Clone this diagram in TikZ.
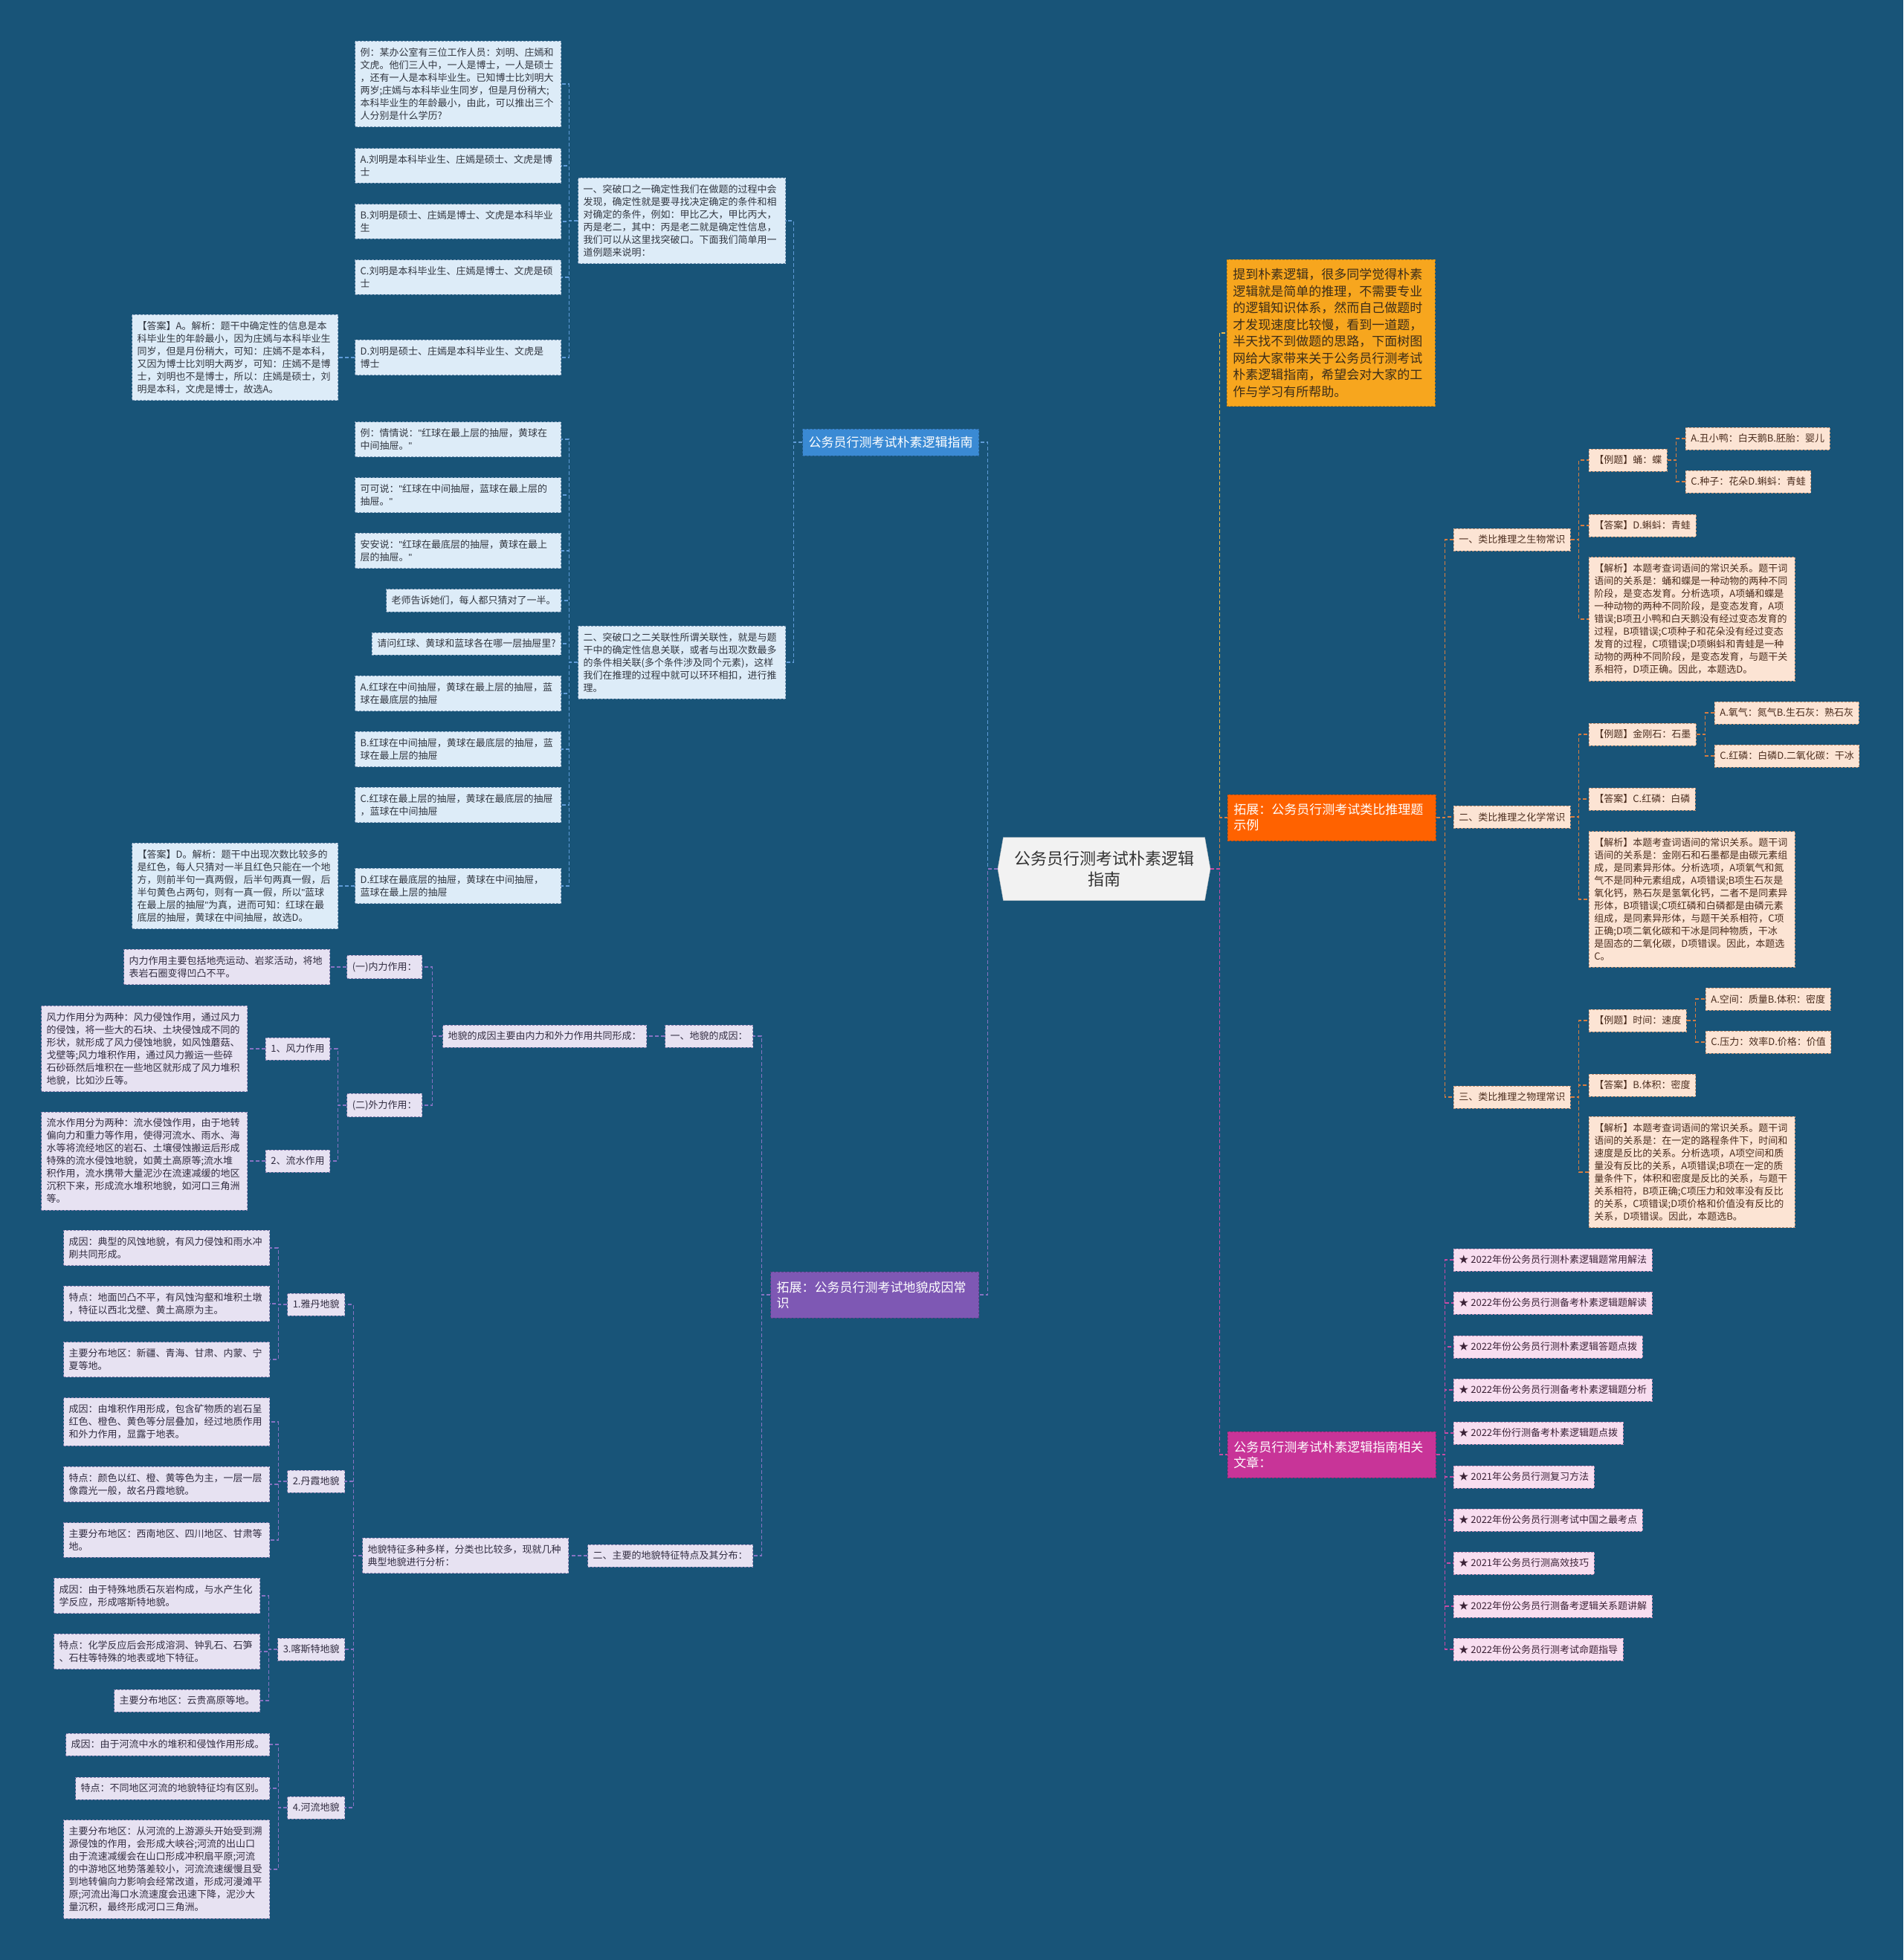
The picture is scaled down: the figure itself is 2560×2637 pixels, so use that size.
\documentclass[tikz,border=0pt]{standalone}
\usepackage{fontspec}
\setmainfont{Noto Sans CJK SC}
\newfontfamily\latinfont{Liberation Sans}
\newcommand\qt{{\latinfont"}}
\usepackage{xcolor}
\usepackage{tikz}
\usetikzlibrary{shapes.symbols,positioning}

\definecolor{bgblue}{RGB}{24,84,120}
\definecolor{bfill}{RGB}{221,236,248}
\definecolor{bdraw}{RGB}{120,150,180}
\definecolor{btext}{RGB}{50,55,65}
\definecolor{pfill}{RGB}{231,226,242}
\definecolor{pdraw}{RGB}{140,130,175}
\definecolor{ptext}{RGB}{50,45,65}
\definecolor{ofill}{RGB}{252,228,212}
\definecolor{odraw}{RGB}{195,145,115}
\definecolor{otext}{RGB}{75,45,30}
\definecolor{mfill}{RGB}{248,222,240}
\definecolor{mdraw}{RGB}{195,140,180}
\definecolor{mtext}{RGB}{60,35,55}
\definecolor{lblblue}{RGB}{58,138,212}
\definecolor{lblpur}{RGB}{126,88,180}
\definecolor{lblorg}{RGB}{255,98,0}
\definecolor{lblmag}{RGB}{200,52,152}
\definecolor{introfill}{RGB}{247,166,30}
\definecolor{introtext}{RGB}{60,45,25}
\definecolor{lnblue}{RGB}{95,155,215}
\definecolor{lnpur}{RGB}{135,115,195}
\definecolor{lnorg}{RGB}{215,125,65}
\definecolor{lnyel}{RGB}{235,185,70}
\definecolor{lnmag}{RGB}{200,75,165}
\definecolor{cfill}{RGB}{242,242,242}

\begin{document}
\begin{tikzpicture}[
  x=1pt, y=-1pt,
  leaf/.style={draw=#1draw, fill=#1fill, text=#1text, line width=0.8pt,
               dash pattern=on 3pt off 2pt, font=\fontsize{13}{17}\selectfont,
               align=left, inner xsep=7pt, inner ysep=9pt, minimum height=30pt},
  wide/.style={text width=263pt},
  lbl/.style={draw=#1!75!black, fill=#1, text=white, line width=0.8pt,
              dash pattern=on 3pt off 2pt, font=\fontsize{17}{21}\selectfont,
              align=left, inner xsep=8pt, inner ysep=10pt},
  lk/.style={draw=#1, line width=1.2pt, dash pattern=on 5pt off 3pt}
]
\useasboundingbox (0,0) rectangle (2560,2637);
\fill[bgblue] (0,0) rectangle (2560,2637);

% root
\node[signal, signal to=west and east, signal pointer angle=160, fill=cfill,
      draw=cfill!80!black, text=black!80, font=\fontsize{22}{28}\selectfont,
      align=center, minimum width=286pt, minimum height=85pt, inner sep=4pt]
      (root) at (1485,1169) {公务员行测考试朴素逻辑\\指南};

% left, blue branch
\node[lbl=lblblue, minimum height=36pt, anchor=east] (guide) at (1317,595) {公务员行测考试朴素逻辑指南};
\node[leaf=b, text width=265pt, anchor=east] (tp1) at (1057,297)
  {一、突破口之一确定性我们在做题的过程中会\\发现，确定性就是要寻找决定确定的条件和相\\对确定的条件，例如：甲比乙大，甲比丙大，\\丙是老二，其中：丙是老二就是确定性信息，\\我们可以从这里找突破口。下面我们简单用一\\道例题来说明：};
\node[leaf=b, text width=265pt, anchor=east] (tp2) at (1057,891)
  {二、突破口之二关联性所谓关联性，就是与题\\干中的确定性信息关联，或者与出现次数最多\\的条件相关联(多个条件涉及同个元素)，这样\\我们在推理的过程中就可以环环相扣，进行推\\理。};
\node[leaf=b, wide, anchor=east] (eg1) at (755,113)
  {例：某办公室有三位工作人员：刘明、庄嫣和\\文虎。他们三人中，一人是博士，一人是硕士\\，还有一人是本科毕业生。已知博士比刘明大\\两岁;庄嫣与本科毕业生同岁，但是月份稍大;\\本科毕业生的年龄最小，由此，可以推出三个\\人分别是什么学历?};
\node[leaf=b, wide, anchor=east] (opt1a) at (755,223) {A.刘明是本科毕业生、庄嫣是硕士、文虎是博\\士};
\node[leaf=b, wide, anchor=east] (opt1b) at (755,298) {B.刘明是硕士、庄嫣是博士、文虎是本科毕业\\生};
\node[leaf=b, wide, anchor=east] (opt1c) at (755,373) {C.刘明是本科毕业生、庄嫣是博士、文虎是硕\\士};
\node[leaf=b, wide, anchor=east] (opt1d) at (755,481) {D.刘明是硕士、庄嫣是本科毕业生、文虎是\\博士};
\node[leaf=b, wide, anchor=east] (key1) at (455,481)
  {【答案】A。解析：题干中确定性的信息是本\\科毕业生的年龄最小，因为庄嫣与本科毕业生\\同岁，但是月份稍大，可知：庄嫣不是本科，\\又因为博士比刘明大两岁，可知：庄嫣不是博\\士，刘明也不是博士，所以：庄嫣是硕士，刘\\明是本科，文虎是博士，故选A。};
\node[leaf=b, wide, anchor=east] (eg2a) at (755,591) {例：情情说：\qt 红球在最上层的抽屉，黄球在\\中间抽屉。\qt};
\node[leaf=b, wide, anchor=east] (eg2b) at (755,666) {可可说：\qt 红球在中间抽屉，蓝球在最上层的\\抽屉。\qt};
\node[leaf=b, wide, anchor=east] (eg2c) at (755,741) {安安说：\qt 红球在最底层的抽屉，黄球在最上\\层的抽屉。\qt};
\node[leaf=b, anchor=east] (eg2d) at (755,808) {老师告诉她们，每人都只猜对了一半。};
\node[leaf=b, anchor=east] (eg2e) at (755,866) {请问红球、黄球和蓝球各在哪一层抽屉里?};
\node[leaf=b, wide, anchor=east] (opt2a) at (755,933) {A.红球在中间抽屉，黄球在最上层的抽屉，蓝\\球在最底层的抽屉};
\node[leaf=b, wide, anchor=east] (opt2b) at (755,1008) {B.红球在中间抽屉，黄球在最底层的抽屉，蓝\\球在最上层的抽屉};
\node[leaf=b, wide, anchor=east] (opt2c) at (755,1083) {C.红球在最上层的抽屉，黄球在最底层的抽屉\\，蓝球在中间抽屉};
\node[leaf=b, wide, anchor=east] (opt2d) at (755,1192) {D.红球在最底层的抽屉，黄球在中间抽屉，\\蓝球在最上层的抽屉};
\node[leaf=b, wide, anchor=east] (key2) at (455,1192)
  {【答案】D。解析：题干中出现次数比较多的\\是红色，每人只猜对一半且红色只能在一个地\\方，则前半句一真两假，后半句两真一假，后\\半句黄色占两句，则有一真一假，所以\qt 蓝球\\在最上层的抽屉\qt 为真，进而可知：红球在最\\底层的抽屉，黄球在中间抽屉，故选D。};

% left, purple branch
\node[lbl=lblpur, text width=264pt, minimum height=62pt, anchor=east] (geo) at (1317,1742) {拓展：公务员行测考试地貌成因常\\识};
\node[leaf=p, anchor=east] (cause) at (1013,1394) {一、地貌的成因：};
\node[leaf=p, anchor=east] (feat) at (1013,2093) {二、主要的地貌特征特点及其分布：};
\node[leaf=p, anchor=east] (causemain) at (870,1394) {地貌的成因主要由内力和外力作用共同形成：};
\node[leaf=p, anchor=east] (inner) at (568,1301) {(一)内力作用：};
\node[leaf=p, anchor=east] (outer) at (568,1487) {(二)外力作用：};
\node[leaf=p, wide, anchor=east] (innerdesc) at (444,1301) {内力作用主要包括地壳运动、岩浆活动，将地\\表岩石圈变得凹凸不平。};
\node[leaf=p, anchor=east] (wind) at (444,1411) {1、风力作用};
\node[leaf=p, anchor=east] (water) at (444,1562) {2、流水作用};
\node[leaf=p, wide, anchor=east] (winddesc) at (333,1411)
  {风力作用分为两种：风力侵蚀作用，通过风力\\的侵蚀，将一些大的石块、土块侵蚀成不同的\\形状，就形成了风力侵蚀地貌，如风蚀蘑菇、\\戈壁等;风力堆积作用，通过风力搬运一些碎\\石砂砾然后堆积在一些地区就形成了风力堆积\\地貌，比如沙丘等。};
\node[leaf=p, wide, anchor=east] (waterdesc) at (333,1562)
  {流水作用分为两种：流水侵蚀作用，由于地转\\偏向力和重力等作用，使得河流水、雨水、海\\水等将流经地区的岩石、土壤侵蚀搬运后形成\\特殊的流水侵蚀地貌，如黄土高原等;流水堆\\积作用，流水携带大量泥沙在流速减缓的地区\\沉积下来，形成流水堆积地貌，如河口三角洲\\等。};
\node[leaf=p, wide, anchor=east] (featmain) at (765,2093) {地貌特征多种多样，分类也比较多，现就几种\\典型地貌进行分析：};
\node[leaf=p, anchor=east] (yadan) at (464,1755) {1.雅丹地貌};
\node[leaf=p, anchor=east] (danxia) at (464,1993) {2.丹霞地貌};
\node[leaf=p, anchor=east] (karst) at (464,2219) {3.喀斯特地貌};
\node[leaf=p, anchor=east] (river) at (464,2432) {4.河流地貌};
\node[leaf=p, wide, anchor=east] (yd1) at (363,1679) {成因：典型的风蚀地貌，有风力侵蚀和雨水冲\\刷共同形成。};
\node[leaf=p, wide, anchor=east] (yd2) at (363,1754) {特点：地面凹凸不平，有风蚀沟壑和堆积土墩\\，特征以西北戈壁、黄土高原为主。};
\node[leaf=p, wide, anchor=east] (yd3) at (363,1829) {主要分布地区：新疆、青海、甘肃、内蒙、宁\\夏等地。};
\node[leaf=p, wide, anchor=east] (dx1) at (363,1913) {成因：由堆积作用形成，包含矿物质的岩石呈\\红色、橙色、黄色等分层叠加，经过地质作用\\和外力作用，显露于地表。};
\node[leaf=p, wide, anchor=east] (dx2) at (363,1997) {特点：颜色以红、橙、黄等色为主，一层一层\\像霞光一般，故名丹霞地貌。};
\node[leaf=p, wide, anchor=east] (dx3) at (363,2072) {主要分布地区：西南地区、四川地区、甘肃等\\地。};
\node[leaf=p, wide, anchor=east] (ks1) at (350,2147) {成因：由于特殊地质石灰岩构成，与水产生化\\学反应，形成喀斯特地貌。};
\node[leaf=p, wide, anchor=east] (ks2) at (350,2222) {特点：化学反应后会形成溶洞、钟乳石、石笋\\、石柱等特殊的地表或地下特征。};
\node[leaf=p, anchor=east] (ks3) at (350,2288) {主要分布地区：云贵高原等地。};
\node[leaf=p, anchor=east] (rv1) at (363,2347) {成因：由于河流中水的堆积和侵蚀作用形成。};
\node[leaf=p, anchor=east] (rv2) at (363,2406) {特点：不同地区河流的地貌特征均有区别。};
\node[leaf=p, wide, anchor=east] (rv3) at (363,2515)
  {主要分布地区：从河流的上游源头开始受到溯\\源侵蚀的作用，会形成大峡谷;河流的出山口\\由于流速减缓会在山口形成冲积扇平原;河流\\的中游地区地势落差较小，河流流速缓慢且受\\到地转偏向力影响会经常改道，形成河漫滩平\\原;河流出海口水流速度会迅速下降，泥沙大\\量沉积，最终形成河口三角洲。};

% right side
\node[draw=introfill!75!black, fill=introfill, text=introtext, line width=0.8pt,
      dash pattern=on 3pt off 2pt, font=\fontsize{17}{22.5}\selectfont, align=left,
      text width=264pt, inner xsep=8pt, inner ysep=12pt, anchor=west] (intro) at (1650,448)
  {提到朴素逻辑，很多同学觉得朴素\\逻辑就是简单的推理，不需要专业\\的逻辑知识体系，然而自己做题时\\才发现速度比较慢，看到一道题，\\半天找不到做题的思路，下面树图\\网给大家带来关于公务员行测考试\\朴素逻辑指南，希望会对大家的工\\作与学习有所帮助。};
\node[lbl=lblorg, text width=264pt, minimum height=62pt, anchor=west] (analog) at (1651,1100) {拓展：公务员行测考试类比推理题\\示例};
\node[leaf=o, anchor=west] (bio) at (1955,726) {一、类比推理之生物常识};
\node[leaf=o, anchor=west] (chem) at (1955,1099) {二、类比推理之化学常识};
\node[leaf=o, anchor=west] (phys) at (1955,1476) {三、类比推理之物理常识};
\node[leaf=o, anchor=west] (bioq) at (2137,619) {【例题】蛹：蝶};
\node[leaf=o, anchor=west] (bioa1) at (2267,590) {A.丑小鸭：白天鹅B.胚胎：婴儿};
\node[leaf=o, anchor=west] (bioa2) at (2267,648) {C.种子：花朵D.蝌蚪：青蛙};
\node[leaf=o, anchor=west] (biokey) at (2137,707) {【答案】D.蝌蚪：青蛙};
\node[leaf=o, wide, anchor=west] (bioexp) at (2137,833)
  {【解析】本题考查词语间的常识关系。题干词\\语间的关系是：蛹和蝶是一种动物的两种不同\\阶段，是变态发育。分析选项，A项蛹和蝶是\\一种动物的两种不同阶段，是变态发育，A项\\错误;B项丑小鸭和白天鹅没有经过变态发育的\\过程，B项错误;C项种子和花朵没有经过变态\\发育的过程，C项错误;D项蝌蚪和青蛙是一种\\动物的两种不同阶段，是变态发育，与题干关\\系相符，D项正确。因此，本题选D。};
\node[leaf=o, anchor=west] (chemq) at (2137,988) {【例题】金刚石：石墨};
\node[leaf=o, anchor=west] (chema1) at (2306,959) {A.氧气：氮气B.生石灰：熟石灰};
\node[leaf=o, anchor=west] (chema2) at (2306,1017) {C.红磷：白磷D.二氧化碳：干冰};
\node[leaf=o, anchor=west] (chemkey) at (2137,1075) {【答案】C.红磷：白磷};
\node[leaf=o, wide, anchor=west] (chemexp) at (2137,1210)
  {【解析】本题考查词语间的常识关系。题干词\\语间的关系是：金刚石和石墨都是由碳元素组\\成，是同素异形体。分析选项，A项氧气和氮\\气不是同种元素组成，A项错误;B项生石灰是\\氧化钙，熟石灰是氢氧化钙，二者不是同素异\\形体，B项错误;C项红磷和白磷都是由磷元素\\组成，是同素异形体，与题干关系相符，C项\\正确;D项二氧化碳和干冰是同种物质，干冰\\是固态的二氧化碳，D项错误。因此，本题选\\C。};
\node[leaf=o, anchor=west] (physq) at (2137,1373) {【例题】时间：速度};
\node[leaf=o, anchor=west] (physa1) at (2294,1344) {A.空间：质量B.体积：密度};
\node[leaf=o, anchor=west] (physa2) at (2294,1402) {C.压力：效率D.价格：价值};
\node[leaf=o, anchor=west] (physkey) at (2137,1460) {【答案】B.体积：密度};
\node[leaf=o, wide, anchor=west] (physexp) at (2137,1577)
  {【解析】本题考查词语间的常识关系。题干词\\语间的关系是：在一定的路程条件下，时间和\\速度是反比的关系。分析选项，A项空间和质\\量没有反比的关系，A项错误;B项在一定的质\\量条件下，体积和密度是反比的关系，与题干\\关系相符，B项正确;C项压力和效率没有反比\\的关系，C项错误;D项价格和价值没有反比的\\关系，D项错误。因此，本题选B。};
\node[lbl=lblmag, text width=264pt, minimum height=62pt, anchor=west] (related) at (1651,1957) {公务员行测考试朴素逻辑指南相关\\文章：};
\node[leaf=m, anchor=west] (art1) at (1955,1695) {★ 2022年份公务员行测朴素逻辑题常用解法};
\node[leaf=m, anchor=west] (art2) at (1955,1753) {★ 2022年份公务员行测备考朴素逻辑题解读};
\node[leaf=m, anchor=west] (art3) at (1955,1812) {★ 2022年份公务员行测朴素逻辑答题点拨};
\node[leaf=m, anchor=west] (art4) at (1955,1870) {★ 2022年份公务员行测备考朴素逻辑题分析};
\node[leaf=m, anchor=west] (art5) at (1955,1928) {★ 2022年份行测备考朴素逻辑题点拨};
\node[leaf=m, anchor=west] (art6) at (1955,1987) {★ 2021年公务员行测复习方法};
\node[leaf=m, anchor=west] (art7) at (1955,2045) {★ 2022年份公务员行测考试中国之最考点};
\node[leaf=m, anchor=west] (art8) at (1955,2103) {★ 2021年公务员行测高效技巧};
\node[leaf=m, anchor=west] (art9) at (1955,2161) {★ 2022年份公务员行测备考逻辑关系题讲解};
\node[leaf=m, anchor=west] (art10) at (1955,2219) {★ 2022年份公务员行测考试命题指导};

% connectors
\draw[lk=lnyel] (root.east) -- ++(12,0) |- (intro.west);
\draw[lk=lnorg] (root.east) -- ++(12,0) |- (analog.west);
\draw[lk=lnmag] (root.east) -- ++(12,0) |- (related.west);
\draw[lk=lnblue] (root.west) -- ++(-13,0) |- (guide.east);
\draw[lk=lnpur] (root.west) -- ++(-13,0) |- (geo.east);

\draw[lk=lnblue] (guide.west) -- ++(-12,0) |- (tp1.east);
\draw[lk=lnblue] (guide.west) -- ++(-12,0) |- (tp2.east);
\draw[lk=lnblue] (tp1.west) -- ++(-12,0) |- (eg1.east);
\draw[lk=lnblue] (tp1.west) -- ++(-12,0) |- (opt1a.east);
\draw[lk=lnblue] (tp1.west) -- ++(-12,0) |- (opt1b.east);
\draw[lk=lnblue] (tp1.west) -- ++(-12,0) |- (opt1c.east);
\draw[lk=lnblue] (tp1.west) -- ++(-12,0) |- (opt1d.east);
\draw[lk=lnblue] (opt1d.west) -- (key1.east);
\draw[lk=lnblue] (tp2.west) -- ++(-12,0) |- (eg2a.east);
\draw[lk=lnblue] (tp2.west) -- ++(-12,0) |- (eg2b.east);
\draw[lk=lnblue] (tp2.west) -- ++(-12,0) |- (eg2c.east);
\draw[lk=lnblue] (tp2.west) -- ++(-12,0) |- (eg2d.east);
\draw[lk=lnblue] (tp2.west) -- ++(-12,0) |- (eg2e.east);
\draw[lk=lnblue] (tp2.west) -- ++(-12,0) |- (opt2a.east);
\draw[lk=lnblue] (tp2.west) -- ++(-12,0) |- (opt2b.east);
\draw[lk=lnblue] (tp2.west) -- ++(-12,0) |- (opt2c.east);
\draw[lk=lnblue] (tp2.west) -- ++(-12,0) |- (opt2d.east);
\draw[lk=lnblue] (opt2d.west) -- (key2.east);

\draw[lk=lnpur] (geo.west) -- ++(-12,0) |- (cause.east);
\draw[lk=lnpur] (geo.west) -- ++(-12,0) |- (feat.east);
\draw[lk=lnpur] (cause.west) -- (causemain.east);
\draw[lk=lnpur] (causemain.west) -- ++(-14,0) |- (inner.east);
\draw[lk=lnpur] (causemain.west) -- ++(-14,0) |- (outer.east);
\draw[lk=lnpur] (inner.west) -- (innerdesc.east);
\draw[lk=lnpur] (outer.west) -- ++(-12,0) |- (wind.east);
\draw[lk=lnpur] (outer.west) -- ++(-12,0) |- (water.east);
\draw[lk=lnpur] (wind.west) -- (winddesc.east);
\draw[lk=lnpur] (water.west) -- (waterdesc.east);
\draw[lk=lnpur] (feat.west) -- (featmain.east);
\draw[lk=lnpur] (featmain.west) -- ++(-12,0) |- (yadan.east);
\draw[lk=lnpur] (featmain.west) -- ++(-12,0) |- (danxia.east);
\draw[lk=lnpur] (featmain.west) -- ++(-12,0) |- (karst.east);
\draw[lk=lnpur] (featmain.west) -- ++(-12,0) |- (river.east);
\draw[lk=lnpur] (yadan.west) -- ++(-12,0) |- (yd1.east);
\draw[lk=lnpur] (yadan.west) -- ++(-12,0) |- (yd2.east);
\draw[lk=lnpur] (yadan.west) -- ++(-12,0) |- (yd3.east);
\draw[lk=lnpur] (danxia.west) -- ++(-12,0) |- (dx1.east);
\draw[lk=lnpur] (danxia.west) -- ++(-12,0) |- (dx2.east);
\draw[lk=lnpur] (danxia.west) -- ++(-12,0) |- (dx3.east);
\draw[lk=lnpur] (karst.west) -- ++(-12,0) |- (ks1.east);
\draw[lk=lnpur] (karst.west) -- ++(-12,0) |- (ks2.east);
\draw[lk=lnpur] (karst.west) -- ++(-12,0) |- (ks3.east);
\draw[lk=lnpur] (river.west) -- ++(-12,0) |- (rv1.east);
\draw[lk=lnpur] (river.west) -- ++(-12,0) |- (rv2.east);
\draw[lk=lnpur] (river.west) -- ++(-12,0) |- (rv3.east);

\draw[lk=lnorg] (analog.east) -- ++(12,0) |- (bio.west);
\draw[lk=lnorg] (analog.east) -- ++(12,0) |- (chem.west);
\draw[lk=lnorg] (analog.east) -- ++(12,0) |- (phys.west);
\draw[lk=lnorg] (bio.east) -- ++(11,0) |- (bioq.west);
\draw[lk=lnorg] (bio.east) -- ++(11,0) |- (biokey.west);
\draw[lk=lnorg] (bio.east) -- ++(11,0) |- (bioexp.west);
\draw[lk=lnorg] (bioq.east) -- ++(12,0) |- (bioa1.west);
\draw[lk=lnorg] (bioq.east) -- ++(12,0) |- (bioa2.west);
\draw[lk=lnorg] (chem.east) -- ++(11,0) |- (chemq.west);
\draw[lk=lnorg] (chem.east) -- ++(11,0) |- (chemkey.west);
\draw[lk=lnorg] (chem.east) -- ++(11,0) |- (chemexp.west);
\draw[lk=lnorg] (chemq.east) -- ++(12,0) |- (chema1.west);
\draw[lk=lnorg] (chemq.east) -- ++(12,0) |- (chema2.west);
\draw[lk=lnorg] (phys.east) -- ++(11,0) |- (physq.west);
\draw[lk=lnorg] (phys.east) -- ++(11,0) |- (physkey.west);
\draw[lk=lnorg] (phys.east) -- ++(11,0) |- (physexp.west);
\draw[lk=lnorg] (physq.east) -- ++(12,0) |- (physa1.west);
\draw[lk=lnorg] (physq.east) -- ++(12,0) |- (physa2.west);

\draw[lk=lnmag] (related.east) -- ++(12,0) |- (art1.west);
\draw[lk=lnmag] (related.east) -- ++(12,0) |- (art2.west);
\draw[lk=lnmag] (related.east) -- ++(12,0) |- (art3.west);
\draw[lk=lnmag] (related.east) -- ++(12,0) |- (art4.west);
\draw[lk=lnmag] (related.east) -- ++(12,0) |- (art5.west);
\draw[lk=lnmag] (related.east) -- ++(12,0) |- (art6.west);
\draw[lk=lnmag] (related.east) -- ++(12,0) |- (art7.west);
\draw[lk=lnmag] (related.east) -- ++(12,0) |- (art8.west);
\draw[lk=lnmag] (related.east) -- ++(12,0) |- (art9.west);
\draw[lk=lnmag] (related.east) -- ++(12,0) |- (art10.west);
\end{tikzpicture}
\end{document}
